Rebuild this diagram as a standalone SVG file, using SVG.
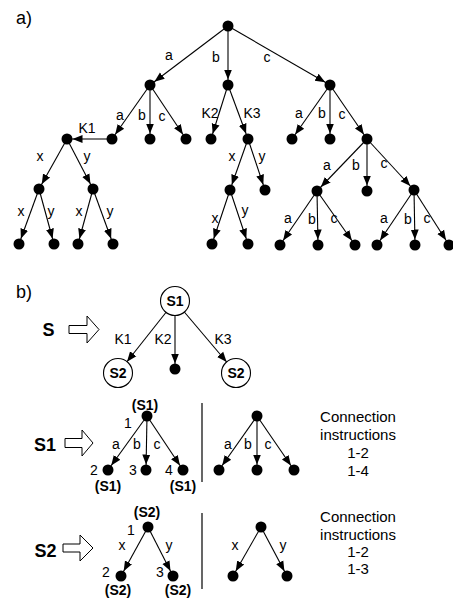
<svg xmlns="http://www.w3.org/2000/svg" width="453" height="599" viewBox="0 0 453 599">
<style>
text{font-family:"Liberation Sans",Arial,sans-serif;fill:#000}
.l{font-size:14px;text-anchor:middle}
.h{font-size:18px}
.bb{font-size:18px;font-weight:bold;text-anchor:middle}
.bs{font-size:14px;font-weight:bold;text-anchor:middle}
.ci{font-size:15px;text-anchor:middle}
.e{stroke:#000;stroke-width:1.1;fill:none;marker-end:url(#ah)}
.ec{stroke:#000;stroke-width:1.1;fill:none;marker-end:url(#ahc)}
.n{fill:#000}
.c{fill:#fff;stroke:#000;stroke-width:1.1}
.blk{fill:#fff;stroke:#000;stroke-width:1}
.sep{stroke:#000;stroke-width:1.2}
</style>
<defs>
<marker id="ah" markerUnits="userSpaceOnUse" markerWidth="20" markerHeight="10" refX="15.5" refY="4" orient="auto" viewBox="0 0 20 8"><path d="M0,0 L10,4 L0,8 z" fill="#000"/></marker>
<marker id="ahc" markerUnits="userSpaceOnUse" markerWidth="30" markerHeight="10" refX="24.5" refY="4" orient="auto" viewBox="0 0 30 8"><path d="M0,0 L10,4 L0,8 z" fill="#000"/></marker>
</defs>

<text class="h" x="16" y="24">a)</text>
<text class="h" x="16" y="298">b)</text>

<g id="connectors">
<!-- part a -->
<line class="e" x1="228" y1="26" x2="150" y2="85"/>
<line class="e" x1="228" y1="26" x2="228" y2="85"/>
<line class="e" x1="228" y1="26" x2="330" y2="85"/>
<line class="e" x1="150" y1="85" x2="112" y2="139"/>
<line class="e" x1="150" y1="85" x2="150" y2="139"/>
<line class="e" x1="150" y1="85" x2="186" y2="139"/>
<line class="e" x1="228" y1="85" x2="211" y2="139"/>
<line class="e" x1="228" y1="85" x2="248" y2="139"/>
<line class="e" x1="330" y1="85" x2="292" y2="139"/>
<line class="e" x1="330" y1="85" x2="330" y2="139"/>
<line class="e" x1="330" y1="85" x2="367" y2="139"/>
<line x1="112" y1="139" x2="67" y2="139" stroke="#7a7a7a" stroke-width="2" marker-end="url(#ah)"/>
<line class="e" x1="67" y1="139" x2="39" y2="189"/>
<line class="e" x1="67" y1="139" x2="93" y2="189"/>
<line class="e" x1="39" y1="189" x2="19" y2="244"/>
<line class="e" x1="39" y1="189" x2="54" y2="244"/>
<line class="e" x1="93" y1="189" x2="78" y2="244"/>
<line class="e" x1="93" y1="189" x2="113" y2="244"/>
<line class="e" x1="248" y1="139" x2="230" y2="190"/>
<line class="e" x1="248" y1="139" x2="265" y2="190"/>
<line class="e" x1="230" y1="190" x2="212" y2="244"/>
<line class="e" x1="230" y1="190" x2="248" y2="244"/>
<line class="e" x1="367" y1="139" x2="317" y2="191"/>
<line class="e" x1="367" y1="139" x2="367" y2="191"/>
<line class="e" x1="367" y1="139" x2="414" y2="190"/>
<line class="e" x1="317" y1="191" x2="280" y2="245"/>
<line class="e" x1="317" y1="191" x2="318" y2="245"/>
<line class="e" x1="317" y1="191" x2="355" y2="245"/>
<line class="e" x1="414" y1="190" x2="377" y2="245"/>
<line class="e" x1="414" y1="190" x2="415" y2="245"/>
<line class="e" x1="414" y1="190" x2="449" y2="245"/>
<!-- part b: S -->
<line class="ec" x1="175" y1="301" x2="118" y2="373"/>
<line class="e" x1="175" y1="301" x2="175" y2="369"/>
<line class="ec" x1="175" y1="301" x2="236" y2="373"/>
<!-- S1 -->
<line class="e" x1="147" y1="416" x2="108" y2="470"/>
<line class="e" x1="147" y1="416" x2="146" y2="470"/>
<line class="e" x1="147" y1="416" x2="183" y2="470"/>
<line class="e" x1="257" y1="416" x2="219" y2="470"/>
<line class="e" x1="257" y1="416" x2="257" y2="470"/>
<line class="e" x1="257" y1="416" x2="294" y2="470"/>
<!-- S2 -->
<line class="e" x1="148" y1="527" x2="121" y2="576"/>
<line class="e" x1="148" y1="527" x2="173" y2="576"/>
<line class="e" x1="261" y1="527" x2="233" y2="576"/>
<line class="e" x1="261" y1="527" x2="287" y2="576"/>
</g>

<g id="edge-labels">
<text class="l" x="169" y="60">a</text>
<text class="l" x="216" y="62">b</text>
<text class="l" x="267" y="62">c</text>
<text class="l" x="120" y="120">a</text>
<text class="l" x="142" y="120">b</text>
<text class="l" x="162" y="121">c</text>
<text class="l" x="210" y="118">K2</text>
<text class="l" x="252" y="118">K3</text>
<text class="l" x="299" y="118">a</text>
<text class="l" x="322" y="118">b</text>
<text class="l" x="342" y="119">c</text>
<text class="l" x="87" y="133">K1</text>
<text class="l" x="40" y="161">x</text>
<text class="l" x="87" y="161">y</text>
<text class="l" x="21" y="216">x</text>
<text class="l" x="51" y="216">y</text>
<text class="l" x="79" y="216">x</text>
<text class="l" x="110" y="216">y</text>
<text class="l" x="232" y="161">x</text>
<text class="l" x="262" y="161">y</text>
<text class="l" x="215" y="223">x</text>
<text class="l" x="245" y="215">y</text>
<text class="l" x="327" y="170">a</text>
<text class="l" x="356" y="170">b</text>
<text class="l" x="384" y="168">c</text>
<text class="l" x="288" y="223">a</text>
<text class="l" x="312" y="224">b</text>
<text class="l" x="334" y="223">c</text>
<text class="l" x="384" y="223">a</text>
<text class="l" x="408" y="224">b</text>
<text class="l" x="427" y="223">c</text>
<text class="l" x="123" y="344">K1</text>
<text class="l" x="163" y="344">K2</text>
<text class="l" x="223" y="344">K3</text>
<text class="l" x="116" y="449">a</text>
<text class="l" x="137" y="449">b</text>
<text class="l" x="157" y="449">c</text>
<text class="l" x="228" y="449">a</text>
<text class="l" x="248" y="449">b</text>
<text class="l" x="268" y="449">c</text>
<text class="l" x="122" y="550">x</text>
<text class="l" x="169" y="550">y</text>
<text class="l" x="235" y="550">x</text>
<text class="l" x="283" y="550">y</text>
</g>

<g id="tree-a">
<g id="a-root"><circle class="n" cx="228" cy="26" r="5.5"/></g>
<g id="a-1a"><circle class="n" cx="150" cy="85" r="5.5"/></g>
<g id="a-1b"><circle class="n" cx="228" cy="85" r="5.5"/></g>
<g id="a-1c"><circle class="n" cx="330" cy="85" r="5.5"/></g>
<g id="a-2aa"><circle class="n" cx="112" cy="139" r="5.5"/></g>
<g id="a-2ab"><circle class="n" cx="150" cy="139" r="5.5"/></g>
<g id="a-2ac"><circle class="n" cx="186" cy="139" r="5.5"/></g>
<g id="a-2k2"><circle class="n" cx="211" cy="139" r="5.5"/></g>
<g id="a-2k3"><circle class="n" cx="248" cy="139" r="5.5"/></g>
<g id="a-2ca"><circle class="n" cx="292" cy="139" r="5.5"/></g>
<g id="a-2cb"><circle class="n" cx="330" cy="139" r="5.5"/></g>
<g id="a-2cc"><circle class="n" cx="367" cy="139" r="5.5"/></g>
<g id="a-k1"><circle class="n" cx="67" cy="139" r="5.5"/></g>
<g id="a-k1x"><circle class="n" cx="39" cy="189" r="5.5"/></g>
<g id="a-k1y"><circle class="n" cx="93" cy="189" r="5.5"/></g>
<g id="a-k1xx"><circle class="n" cx="19" cy="244" r="5.5"/></g>
<g id="a-k1xy"><circle class="n" cx="54" cy="244" r="5.5"/></g>
<g id="a-k1yx"><circle class="n" cx="78" cy="244" r="5.5"/></g>
<g id="a-k1yy"><circle class="n" cx="113" cy="244" r="5.5"/></g>
<g id="a-k3x"><circle class="n" cx="230" cy="190" r="5.5"/></g>
<g id="a-k3y"><circle class="n" cx="265" cy="190" r="5.5"/></g>
<g id="a-k3xx"><circle class="n" cx="212" cy="244" r="5.5"/></g>
<g id="a-k3xy"><circle class="n" cx="248" cy="244" r="5.5"/></g>
<g id="a-3a"><circle class="n" cx="317" cy="191" r="5.5"/></g>
<g id="a-3b"><circle class="n" cx="367" cy="191" r="5.5"/></g>
<g id="a-3c"><circle class="n" cx="414" cy="190" r="5.5"/></g>
<g id="a-4aa"><circle class="n" cx="280" cy="245" r="5.5"/></g>
<g id="a-4ab"><circle class="n" cx="318" cy="245" r="5.5"/></g>
<g id="a-4ac"><circle class="n" cx="355" cy="245" r="5.5"/></g>
<g id="a-4ca"><circle class="n" cx="377" cy="245" r="5.5"/></g>
<g id="a-4cb"><circle class="n" cx="415" cy="245" r="5.5"/></g>
<g id="a-4cc"><circle class="n" cx="449" cy="245" r="5.5"/></g>
</g>

<g id="row-S">
<text class="bb" x="48.5" y="336">S</text>
<path class="blk" d="M69,325.5 H87 V316 L99,329.5 L87,343 V333.5 H69 Z"/>
<g id="S-S1"><circle class="c" cx="175" cy="301" r="14.5"/><text class="bs" x="175" y="306">S1</text></g>
<g id="S-S2a"><circle class="c" cx="118" cy="373" r="14.5"/><text class="bs" x="118" y="378">S2</text></g>
<g id="S-dot"><circle class="n" cx="175" cy="369" r="5.5"/></g>
<g id="S-S2b"><circle class="c" cx="236" cy="373" r="14.5"/><text class="bs" x="236" y="378">S2</text></g>
</g>

<g id="row-S1">
<text class="bb" x="45" y="451">S1</text>
<path class="blk" d="M65,438.5 H82 V430 L93,443 L82,456 V447.5 H65 Z"/>
<g id="S1-1"><circle class="n" cx="147" cy="416" r="5.5"/><text class="bs" x="145" y="410">(S1)</text><text class="l" x="128" y="428">1</text></g>
<g id="S1-2"><circle class="n" cx="108" cy="470" r="5.5"/><text class="l" x="94" y="475">2</text><text class="bs" x="108" y="491">(S1)</text></g>
<g id="S1-3"><circle class="n" cx="146" cy="470" r="5.5"/><text class="l" x="133" y="475">3</text></g>
<g id="S1-4"><circle class="n" cx="183" cy="470" r="5.5"/><text class="l" x="169" y="475">4</text><text class="bs" x="183" y="491">(S1)</text></g>
<line class="sep" x1="202" y1="403" x2="202" y2="482"/>
<g id="S1r-root"><circle class="n" cx="257" cy="416" r="5.5"/></g>
<g id="S1r-a"><circle class="n" cx="219" cy="470" r="5.5"/></g>
<g id="S1r-b"><circle class="n" cx="257" cy="470" r="5.5"/></g>
<g id="S1r-c"><circle class="n" cx="294" cy="470" r="5.5"/></g>
<g id="S1-ci">
<text class="ci" x="358" y="422">Connection</text>
<text class="ci" x="358" y="440">instructions</text>
<text class="ci" x="358" y="458">1-2</text>
<text class="ci" x="358" y="476">1-4</text>
</g>
</g>

<g id="row-S2">
<text class="bb" x="45.5" y="557">S2</text>
<path class="blk" d="M63,544 H80 V535 L93,548 L80,561 V552 H63 Z"/>
<g id="S2-1"><circle class="n" cx="148" cy="527" r="5.5"/><text class="bs" x="147" y="517">(S2)</text><text class="l" x="131" y="535">1</text></g>
<g id="S2-2"><circle class="n" cx="121" cy="576" r="5.5"/><text class="l" x="106" y="577">2</text><text class="bs" x="118" y="595">(S2)</text></g>
<g id="S2-3"><circle class="n" cx="173" cy="576" r="5.5"/><text class="l" x="160" y="577">3</text><text class="bs" x="178" y="595">(S2)</text></g>
<line class="sep" x1="202" y1="513" x2="202" y2="589"/>
<g id="S2r-root"><circle class="n" cx="261" cy="527" r="5.5"/></g>
<g id="S2r-x"><circle class="n" cx="233" cy="576" r="5.5"/></g>
<g id="S2r-y"><circle class="n" cx="287" cy="576" r="5.5"/></g>
<g id="S2-ci">
<text class="ci" x="358" y="522">Connection</text>
<text class="ci" x="358" y="540">instructions</text>
<text class="ci" x="358" y="557">1-2</text>
<text class="ci" x="358" y="574">1-3</text>
</g>
</g>
</svg>
